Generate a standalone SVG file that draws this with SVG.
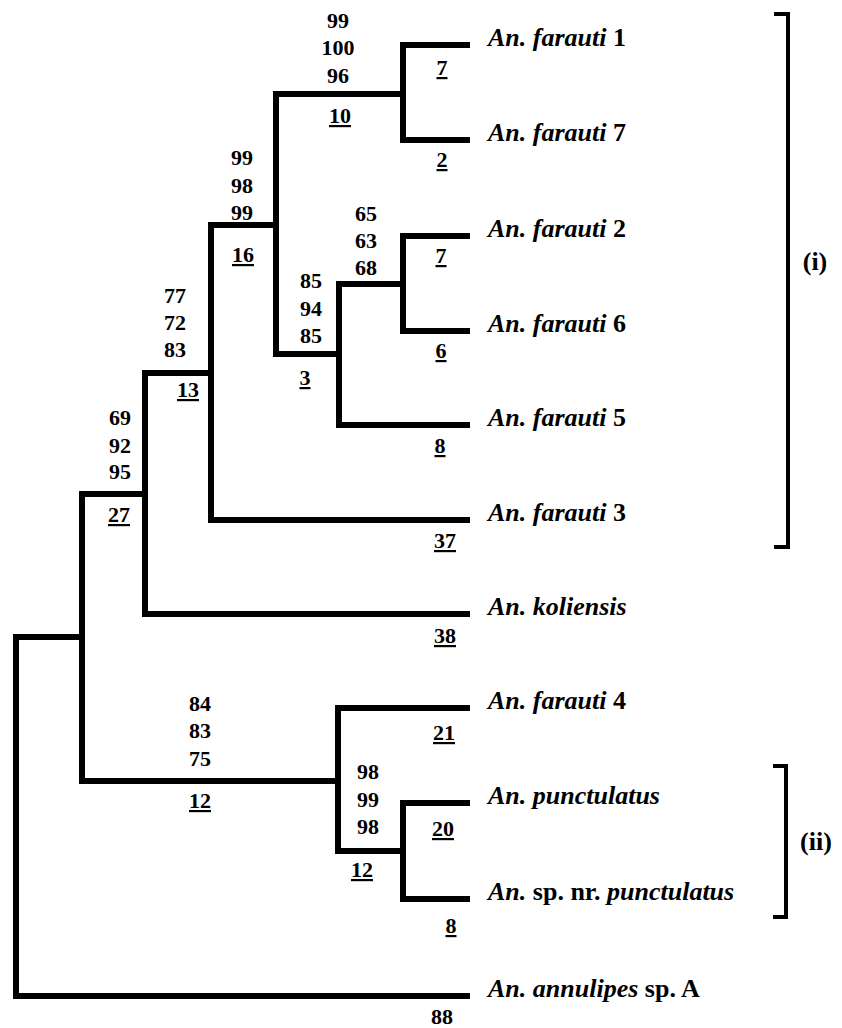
<svg xmlns="http://www.w3.org/2000/svg" width="842" height="1028" viewBox="0 0 842 1028">
<style>
.br{fill:none;stroke:#000;stroke-width:6;stroke-linejoin:miter;stroke-linecap:square}
.bk{fill:none;stroke:#000;stroke-width:4;stroke-linecap:butt}
.n{font-family:"Liberation Serif","Times New Roman",serif;font-weight:bold;font-size:22px;text-anchor:middle;fill:#000}
.u{text-decoration:underline}
.t{font-family:"Liberation Serif","Times New Roman",serif;font-weight:bold;font-size:26px;fill:#000}
.i{font-style:italic}
.g{font-family:"Liberation Serif","Times New Roman",serif;font-weight:bold;font-size:26px;text-anchor:middle;fill:#000}
</style>
<rect width="842" height="1028" fill="#fff"/>
<g id="connectors">
<path class="br" d="M82,637 H16 V996 H467"/>
<path class="br" d="M145,494 H82 V781 H338"/>
<path class="br" d="M211,373 H145 V614 H467"/>
<path class="br" d="M276,225 H211 V520 H467"/>
<path class="br" d="M403,94 H276 V354 H339"/>
<path class="br" d="M467,45 H403 V140 H467"/>
<path class="br" d="M403,284 H339 V425 H467"/>
<path class="br" d="M467,236 H403 V331 H467"/>
<path class="br" d="M467,708 H338 V851 H403"/>
<path class="br" d="M467,803 H403 V899 H467"/>
</g>
<g id="node-f1-f7">
<text class="n" x="338" y="28">99</text>
<text class="n" x="338" y="55">100</text>
<text class="n" x="338" y="83">96</text>
<text class="n u" x="340" y="123">10</text>
</g>
<g id="node-f2-f6-f5">
<text class="n" x="311" y="288">85</text>
<text class="n" x="311" y="316">94</text>
<text class="n" x="311" y="343">85</text>
<text class="n u" x="305" y="385">3</text>
</g>
<g id="node-f2-f6">
<text class="n" x="366" y="221">65</text>
<text class="n" x="366" y="248">63</text>
<text class="n" x="366" y="275">68</text>
</g>
<g id="node-f1-f7-f2-f6-f5">
<text class="n" x="242" y="165">99</text>
<text class="n" x="242" y="193">98</text>
<text class="n" x="242" y="220">99</text>
<text class="n u" x="243" y="262">16</text>
</g>
<g id="node-farauti-group">
<text class="n" x="175" y="303">77</text>
<text class="n" x="175" y="330">72</text>
<text class="n" x="175" y="357">83</text>
<text class="n u" x="188" y="397">13</text>
</g>
<g id="node-koliensis-group">
<text class="n" x="120" y="425">69</text>
<text class="n" x="120" y="453">92</text>
<text class="n" x="120" y="479">95</text>
<text class="n u" x="119" y="522">27</text>
</g>
<g id="node-f4-group">
<text class="n" x="200" y="711">84</text>
<text class="n" x="200" y="738">83</text>
<text class="n" x="200" y="766">75</text>
<text class="n u" x="200" y="808">12</text>
</g>
<g id="node-punctulatus-group">
<text class="n" x="368" y="779">98</text>
<text class="n" x="368" y="807">99</text>
<text class="n" x="368" y="834">98</text>
<text class="n u" x="362" y="877">12</text>
</g>
<g id="taxon-f1"><text class="t" x="488" y="46"><tspan class="i">An. farauti</tspan> 1</text><text class="n u" x="442" y="75">7</text></g>
<g id="taxon-f7"><text class="t" x="488" y="141"><tspan class="i">An. farauti</tspan> 7</text><text class="n u" x="442" y="167">2</text></g>
<g id="taxon-f2"><text class="t" x="488" y="237"><tspan class="i">An. farauti</tspan> 2</text><text class="n u" x="441" y="263">7</text></g>
<g id="taxon-f6"><text class="t" x="488" y="332"><tspan class="i">An. farauti</tspan> 6</text><text class="n u" x="441" y="358">6</text></g>
<g id="taxon-f5"><text class="t" x="488" y="426"><tspan class="i">An. farauti</tspan> 5</text><text class="n u" x="440" y="453">8</text></g>
<g id="taxon-f3"><text class="t" x="488" y="521"><tspan class="i">An. farauti</tspan> 3</text><text class="n u" x="445" y="548">37</text></g>
<g id="taxon-koliensis"><text class="t i" x="488" y="615">An. koliensis</text><text class="n u" x="445" y="643">38</text></g>
<g id="taxon-f4"><text class="t" x="488" y="709"><tspan class="i">An. farauti</tspan> 4</text><text class="n u" x="444" y="740">21</text></g>
<g id="taxon-punctulatus"><text class="t i" x="488" y="804">An. punctulatus</text><text class="n u" x="443" y="836">20</text></g>
<g id="taxon-spnr"><text class="t" x="488" y="900"><tspan class="i">An.</tspan> sp. nr. <tspan class="i">punctulatus</tspan></text><text class="n u" x="451" y="933">8</text></g>
<g id="taxon-annulipes"><text class="t" x="488" y="997"><tspan class="i">An. annulipes</tspan> sp. A</text><text class="n" x="442" y="1024">88</text></g>
<g id="group-i">
<path class="bk" d="M774,14 H788 V547 H774"/>
<text class="g" x="815" y="270">(i)</text>
</g>
<g id="group-ii">
<path class="bk" d="M773,766 H786 V917 H773"/>
<text class="g" x="816" y="850">(ii)</text>
</g>
</svg>
